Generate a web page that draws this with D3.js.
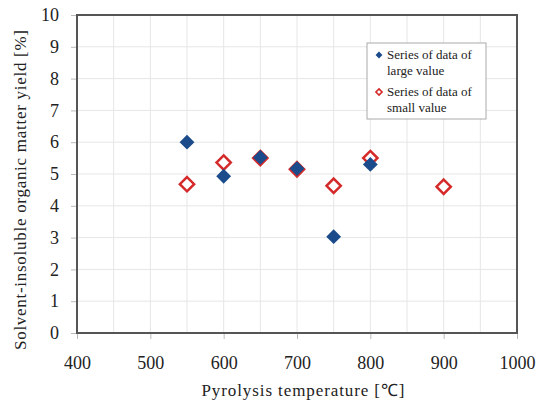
<!DOCTYPE html>
<html>
<head>
<meta charset="utf-8">
<script src="https://cdn.jsdelivr.net/npm/d3@7"></script>
<style>
  body { margin: 0; background: #fff; }
</style>
</head>
<body>
<div id="chart"></div>
<script>
// data
var tempLarge = [550, 600, 650, 700, 750, 800];
var yieldLarge = [6.0, 4.93, 5.52, 5.17, 3.03, 5.3];
var tempSmall = [550, 600, 650, 700, 750, 800, 900];
var yieldSmall = [4.68, 5.36, 5.5, 5.15, 4.63, 5.5, 4.6];
var xTicks = [400, 500, 600, 700, 800, 900, 1000];
var yTicks = [0, 1, 2, 3, 4, 5, 6, 7, 8, 9, 10];
var legendLabels = [["Series of data of", "large value"], ["Series of data of", "small value"]];

var serif = "'Liberation Serif', 'Times New Roman', serif";

var margin = {top: 15, right: 22, bottom: 72, left: 77},
  width = 539 - margin.left - margin.right,
  height = 405 - margin.top - margin.bottom;

var svg = d3.select("#chart")
  .append("svg")
  .attr("width", 539)
  .attr("height", 405)
  .append("g")
  .attr("transform", "translate(" + margin.left + "," + margin.top + ")");

var x = d3.scaleLinear().domain([400, 1000]).range([0, width]);
var y = d3.scaleLinear().domain([0, 10]).range([height, 0]);

// gridlines
svg.append("g")
  .selectAll("line")
  .data(d3.range(450, 1000, 50))
  .enter().append("line")
  .attr("x1", function(d) { return x(d); })
  .attr("x2", function(d) { return x(d); })
  .attr("y1", 0).attr("y2", height)
  .attr("stroke", "#e6e6e6");

svg.append("g")
  .selectAll("line")
  .data(yTicks.slice(1, -1))
  .enter().append("line")
  .attr("y1", function(d) { return y(d); })
  .attr("y2", function(d) { return y(d); })
  .attr("x1", 0).attr("x2", width)
  .attr("stroke", "#e6e6e6");

// axes
var xAxis = svg.append("g")
  .attr("transform", "translate(0," + height + ")")
  .call(d3.axisBottom(x).tickValues(xTicks).tickSize(6).tickPadding(17).tickFormat(d3.format("d")));
var yAxis = svg.append("g")
  .call(d3.axisLeft(y).tickValues(yTicks).tickSize(6).tickPadding(12));

[xAxis, yAxis].forEach(function(a) {
  a.select(".domain").remove();
  a.selectAll("line").attr("stroke", "#bbb");
  a.selectAll("text")
    .style("font-family", serif)
    .style("font-size", "18px")
    .style("fill", "#222");
});

// frame
svg.append("rect")
  .attr("width", width).attr("height", height)
  .attr("fill", "none")
  .attr("stroke", "#555")
  .attr("stroke-width", 2);

var diamond = d3.symbol().type(d3.symbolDiamond2);

// small value series (open red)
svg.append("g")
  .selectAll("path")
  .data(tempSmall)
  .enter().append("path")
  .attr("d", diamond.size(130)())
  .attr("transform", function(d, i) { return "translate(" + x(d) + "," + y(yieldSmall[i]) + ")"; })
  .attr("fill", "#fff")
  .attr("stroke", "#d42a2a")
  .attr("stroke-width", 2.5);

// large value series (filled blue)
svg.append("g")
  .selectAll("path")
  .data(tempLarge)
  .enter().append("path")
  .attr("d", diamond.size(140)())
  .attr("transform", function(d, i) { return "translate(" + x(d) + "," + y(yieldLarge[i]) + ")"; })
  .attr("fill", "#1b4b8a");

// legend
var lg = svg.append("g").attr("transform", "translate(290,28)");
lg.append("rect")
  .attr("width", 119).attr("height", 76)
  .attr("fill", "#fff")
  .attr("stroke", "#aaa");

legendLabels.forEach(function(lines, i) {
  var g = lg.append("g").attr("transform", "translate(0," + (i * 37) + ")");
  if (i === 0) {
    g.append("path").attr("d", diamond.size(30)())
      .attr("transform", "translate(12,12)").attr("fill", "#1b4b8a");
  } else {
    g.append("path").attr("d", diamond.size(24)())
      .attr("transform", "translate(12,12)").attr("fill", "#fff")
      .attr("stroke", "#d42a2a").attr("stroke-width", 1.6);
  }
  lines.forEach(function(t, j) {
    g.append("text")
      .attr("x", 20).attr("y", 16 + j * 16)
      .style("font-family", serif)
      .style("font-size", "13px")
      .style("fill", "#222")
      .text(t);
  });
});

// axis titles
svg.append("text")
  .attr("x", 303 - margin.left)
  .attr("y", height + 63)
  .attr("text-anchor", "middle")
  .attr("textLength", 203)
  .style("font-family", serif)
  .style("font-size", "17px")
  .style("fill", "#222")
  .text("Pyrolysis temperature [\u2103]");

svg.append("text")
  .attr("transform", "rotate(-90)")
  .attr("x", -(190 - margin.top))
  .attr("y", -51)
  .attr("text-anchor", "middle")
  .attr("textLength", 320)
  .style("font-family", serif)
  .style("font-size", "17px")
  .style("fill", "#222")
  .text("Solvent-insoluble organic matter yield [%]");
</script>
</body>
</html>
